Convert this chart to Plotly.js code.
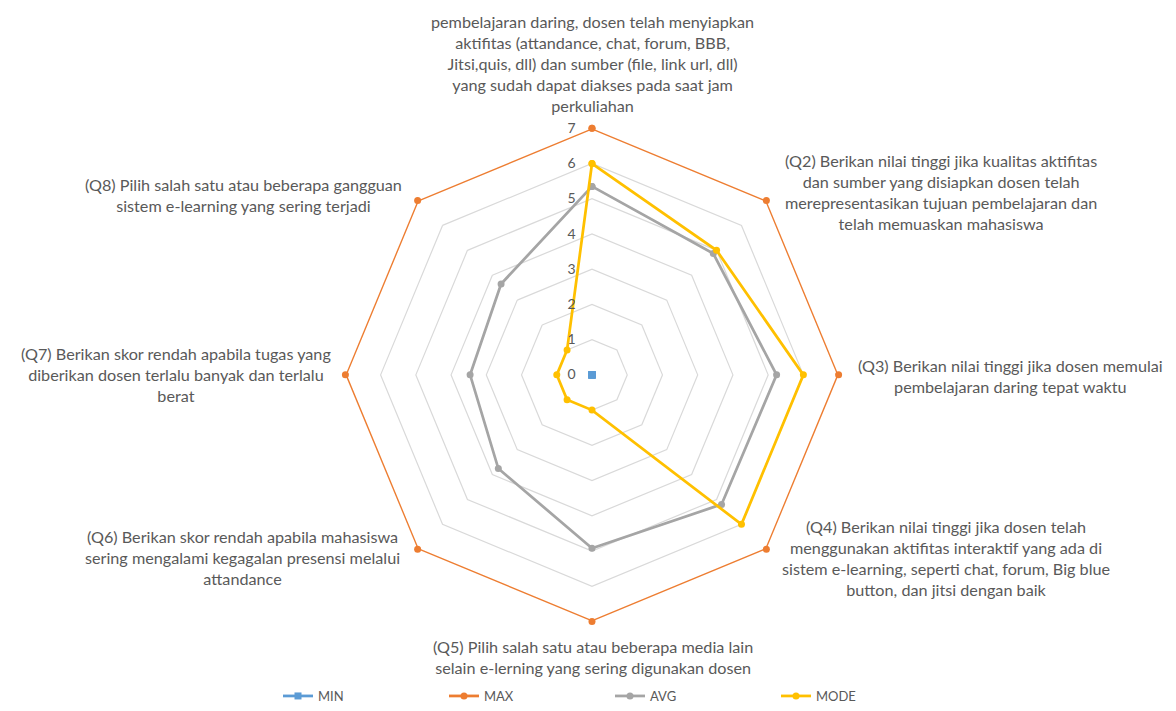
<!DOCTYPE html>
<html><head><meta charset="utf-8">
<script src="https://cdn.plot.ly/plotly-3.0.1.min.js"></script>
<style>html,body{margin:0;padding:0;background:#fff}#chart{width:1176px;height:711px}</style>
</head><body><div id="chart"></div>
<script>
const categories = [
  "pembelajaran daring, dosen telah menyiapkan<br>aktifitas (attandance, chat, forum, BBB,<br>Jitsi,quis, dll) dan sumber (file, link url, dll)<br>yang sudah dapat diakses pada saat jam<br>perkuliahan",
  "(Q2) Berikan nilai tinggi jika kualitas aktifitas<br>dan sumber yang disiapkan dosen telah<br>merepresentasikan tujuan pembelajaran dan<br>telah memuaskan mahasiswa",
  "(Q3) Berikan nilai tinggi jika dosen memulai<br>pembelajaran daring tepat waktu",
  "(Q4) Berikan nilai tinggi jika dosen telah<br>menggunakan aktifitas interaktif yang ada di<br>sistem e-learning, seperti chat, forum, Big blue<br>button, dan jitsi dengan baik",
  "(Q5) Pilih salah satu atau beberapa media lain<br>selain e-lerning yang sering digunakan dosen",
  "(Q6) Berikan skor rendah apabila mahasiswa<br>sering mengalami kegagalan presensi melalui<br>attandance",
  "(Q7) Berikan skor rendah apabila tugas yang<br>diberikan dosen terlalu banyak dan terlalu<br>berat",
  "(Q8) Pilih salah satu atau beberapa gangguan<br>sistem e-learning yang sering terjadi"
];
const catKeys = ["Q1","Q2","Q3","Q4","Q5","Q6","Q7","Q8"];
const minVals  = [0,0,0,0,0,0,0,0];
const maxVals  = [7,7,7,7,7,7,7,7];
const avgVals  = [5.35,4.87,5.24,5.2,4.92,3.76,3.46,3.65];
const modeVals = [6,5,6,6,1,1,1,1];
const seriesNames = ["MIN","MAX","AVG","MODE"];
const radialTicks = [0,1,2,3,4,5,6,7];

const colors = ["#5B9BD5","#ED7D31","#A5A5A5","#FFC000"];
const symbols = ["square","circle","circle","circle"];
const allVals = [minVals,maxVals,avgVals,modeVals];

const close = a => a.concat([a[0]]);
const traces = allVals.map((v,i)=>({
  type:"scatterpolar",
  subplot: i===0 ? "polar2" : "polar",
  r: close(v),
  theta: close(catKeys),
  mode:"lines+markers",
  name: seriesNames[i],
  line:{color:colors[i], width:2.75},
  marker:{color:colors[i], size:7, symbol:symbols[i]},
  cliponaxis:false
}));

const labelPos = [
  [592,64],[941,193],[1010,378],[946,561],[593,661],[242,561],[176,377],[243,196]
];
const W=1176,H=711;
const FONT = "Lato, 'Open Sans', sans-serif";
const annotations = categories.map((t,i)=>({
  text:t, xref:"paper", yref:"paper",
  x: labelPos[i][0]/W, y: 1-labelPos[i][1]/H,
  xanchor:"center", yanchor:"middle", showarrow:false, align:"center",
  font:{family:FONT, size:16.2, color:"#595959"}
}));
const domain = {x:[344/W,840/W], y:[1-625/H,1-129/H]};

const layout = {
  width:W, height:H,
  margin:{l:0,r:0,t:0,b:0},
  paper_bgcolor:"#fff",
  showlegend:true,
  legend:{orientation:"h", x:278/W, y:1-700/H, xanchor:"left", yanchor:"middle",
    entrywidth:121, entrywidthmode:"pixels", traceorder:"normal",
    font:{family:FONT, size:13, color:"#595959"}},
  polar:{
    domain:domain,
    bgcolor:"rgba(0,0,0,0)",
    gridshape:"linear",
    radialaxis:{range:[0,7], tickvals:radialTicks, ticktext:radialTicks.map(String),
      angle:90, tickangle:90, side:"counterclockwise",
      showline:false, ticks:"outside", ticklen:11, tickcolor:"rgba(0,0,0,0)",
      gridcolor:"#D9D9D9", gridwidth:1.2,
      tickfont:{family:FONT, size:14, color:"#595959"}},
    angularaxis:{type:"category", categoryarray:catKeys, rotation:90, direction:"clockwise",
      showticklabels:false, ticks:"", showgrid:false, showline:false}
  },
  polar2:{
    domain:domain,
    bgcolor:"rgba(0,0,0,0)",
    gridshape:"circular",
    radialaxis:{range:[0,7], visible:false, showgrid:false, showline:false, showticklabels:false, ticks:""},
    angularaxis:{type:"category", categoryarray:catKeys, rotation:90, direction:"clockwise",
      visible:false, showticklabels:false, ticks:"", showgrid:false, showline:false}
  },
  annotations: annotations
};
Plotly.newPlot("chart", traces, layout, {displayModeBar:false, staticPlot:true});
</script></body></html>
